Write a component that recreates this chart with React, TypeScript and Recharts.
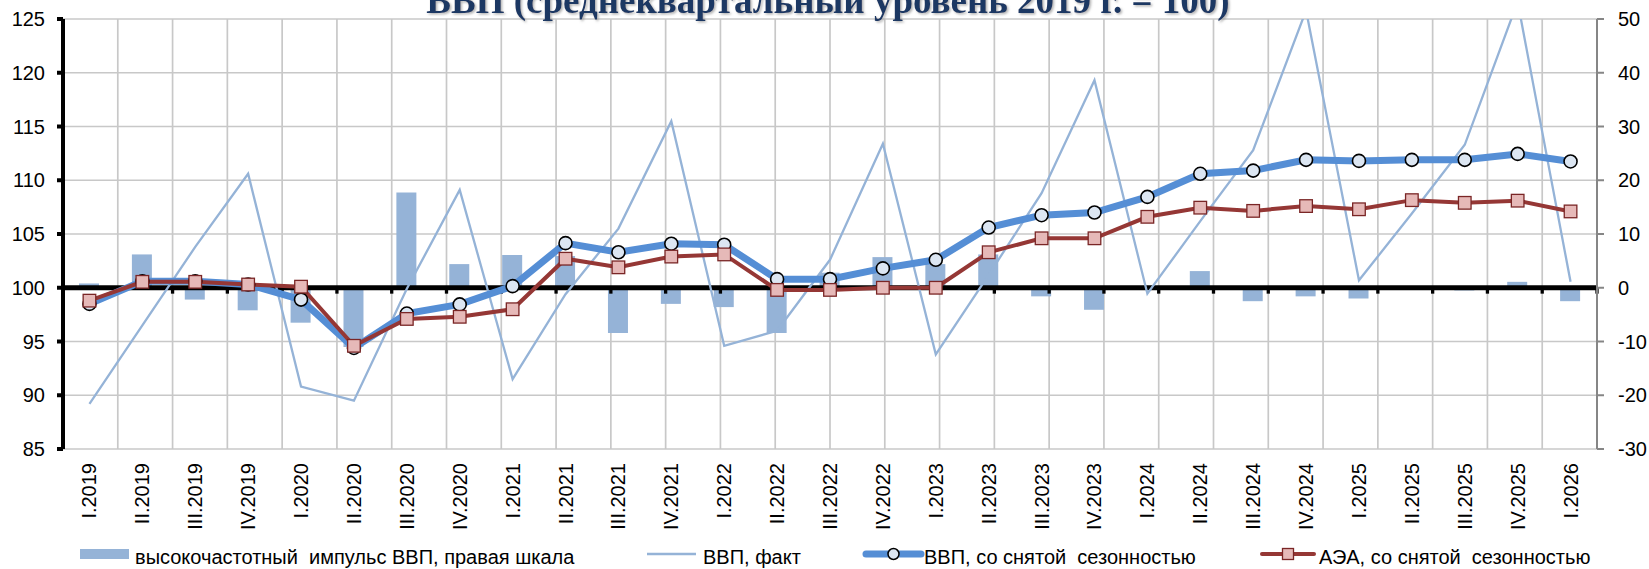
import React from "react";
import {
  Bar,
  CartesianGrid,
  ComposedChart,
  Line,
  ReferenceLine,
  XAxis,
  YAxis,
} from "recharts";

const QUARTERS = [
  "I.2019", "II.2019", "III.2019", "IV.2019",
  "I.2020", "II.2020", "III.2020", "IV.2020",
  "I.2021", "II.2021", "III.2021", "IV.2021",
  "I.2022", "II.2022", "III.2022", "IV.2022",
  "I.2023", "II.2023", "III.2023", "IV.2023",
  "I.2024", "II.2024", "III.2024", "IV.2024",
  "I.2025", "II.2025", "III.2025", "IV.2025",
  "I.2026",
];

// высокочастотный импульс ВВП (правая шкала)
const GDP_IMPULSE = [
  0.8, 6.2, -2.2, -4.2, -6.5, -11.0, 17.7, 4.4, 6.1, 5.9, -8.4, -3.0, -3.6, -8.4, 2.8,
  5.7, 4.4, 6.2, -1.6, -4.1, 0.0, 3.1, -2.5, -1.6, -2.0, 0.0, -0.5, 1.1, -2.5,
];

// ВВП, факт
const GDP_FACT = [
  89.2, 96.5, 103.8, 110.6, 90.8, 89.5, 99.9, 109.1, 91.5, 99.4, 105.5, 115.5, 94.6, 96.0,
  102.6, 113.4, 93.8, 101.2, 108.8, 119.3, 99.45, 106.2, 112.8, 125.8, 100.7, 106.9, 113.3,
  126.6, 100.55,
];

// ВВП, со снятой сезонностью
const GDP_SA = [
  98.5, 100.6, 100.6, 100.3, 98.9, 94.4, 97.6, 98.45, 100.15, 104.15, 103.3, 104.1, 104.0,
  100.8, 100.8, 101.8, 102.6, 105.6, 106.75, 107.0, 108.45, 110.6, 110.9, 111.9, 111.8,
  111.9, 111.9, 112.45, 111.75,
];

// АЭА, со снятой сезонностью
const AEA_SA = [
  98.8, 100.55, 100.55, 100.3, 100.1, 94.6, 97.1, 97.3, 98.0, 102.7, 101.9, 102.9, 103.1,
  99.8, 99.8, 100.0, 100.0, 103.3, 104.6, 104.6, 106.6, 107.45, 107.15, 107.6, 107.3,
  108.15, 107.9, 108.1, 107.1,
];

const LEFT_TICKS = [85, 90, 95, 100, 105, 110, 115, 120, 125];
const RIGHT_TICKS = [-30, -20, -10, 0, 10, 20, 30, 40, 50];
const BOUNDARIES = Array.from({ length: QUARTERS.length + 1 }, (_, i) => i);

const TITLE = "ВВП (среднеквартальный уровень 2019 г. = 100)";
const LEGEND_LABELS = [
  "высокочастотный  импульс ВВП, правая шкала",
  "ВВП, факт",
  "ВВП, со снятой  сезонностью",
  "АЭА, со снятой  сезонностью",
];

const data = QUARTERS.map((q, i) => ({
  q,
  impulse: GDP_IMPULSE[i],
  fact: GDP_FACT[i],
  sa: GDP_SA[i],
  aea: AEA_SA[i],
}));

const BAR_BLUE = "#95B3D7";
const SA_BLUE = "#558ED5";
const AEA_RED = "#953735";
const FONT = '"Liberation Sans", Arial, sans-serif';

const QuarterTick = (props: any) => {
  const { x, y, payload } = props;
  return (
    <text
      x={x}
      y={y}
      transform={`rotate(-90 ${x} ${y})`}
      textAnchor="end"
      dy="0.35em"
      fontSize={20}
      fontFamily={FONT}
      fill="#000"
    >
      {payload.value}
    </text>
  );
};

const SquareDot = (props: any) => {
  const { cx, cy, index } = props;
  if (cx == null || cy == null) return <g key={`sq-${index}`} />;
  return (
    <rect
      key={`sq-${index}`}
      x={cx - 6.3}
      y={cy - 6.3}
      width={12.6}
      height={12.6}
      fill="#E6B9B8"
      stroke="#7A2626"
      strokeWidth={1.3}
    />
  );
};

function Overlay() {
  const legendX = [80, 647, 866, 1262];
  const textY = 564;
  const lineY = 554;
  return (
    <svg
      width={1649}
      height={569}
      style={{ position: "absolute", left: 0, top: 0, pointerEvents: "none" }}
    >
      <defs>
        <filter id="shadow" x="-5%" y="-50%" width="110%" height="200%">
          <feDropShadow dx="1.5" dy="1.5" stdDeviation="1" floodColor="#7f7f7f" floodOpacity="0.6" />
        </filter>
      </defs>
      <text
        x={828}
        y={13}
        textAnchor="middle"
        fontSize={37}
        fontWeight="bold"
        fontFamily='"Liberation Serif", "Times New Roman", serif'
        fill="#1F3864"
        filter="url(#shadow)"
      >
        {TITLE}
      </text>

      <rect x={legendX[0]} y={549} width={49} height={10} fill={BAR_BLUE} />
      <text x={legendX[0] + 55} y={textY} fontSize={20} fontFamily={FONT} style={{ whiteSpace: "pre" }}>
        {LEGEND_LABELS[0]}
      </text>

      <line x1={legendX[1]} x2={legendX[1] + 49} y1={lineY} y2={lineY} stroke={BAR_BLUE} strokeWidth={2.3} />
      <text x={legendX[1] + 56} y={textY} fontSize={20} fontFamily={FONT} style={{ whiteSpace: "pre" }}>
        {LEGEND_LABELS[1]}
      </text>

      <line x1={legendX[2]} x2={legendX[2] + 55} y1={lineY} y2={lineY} stroke={SA_BLUE} strokeWidth={7} strokeLinecap="round" />
      <circle cx={legendX[2] + 27.5} cy={lineY} r={5.5} fill="#DCE6F2" stroke="#000" strokeWidth={1.5} />
      <text x={legendX[2] + 58} y={textY} fontSize={20} fontFamily={FONT} style={{ whiteSpace: "pre" }}>
        {LEGEND_LABELS[2]}
      </text>

      <line x1={legendX[3]} x2={legendX[3] + 52} y1={lineY} y2={lineY} stroke={AEA_RED} strokeWidth={4} strokeLinecap="round" />
      <rect x={legendX[3] + 20.5} y={lineY - 5.5} width={11} height={11} fill="#E6B9B8" stroke="#7A2626" strokeWidth={1.3} />
      <text x={legendX[3] + 57} y={textY} fontSize={20} fontFamily={FONT} style={{ whiteSpace: "pre" }}>
        {LEGEND_LABELS[3]}
      </text>
    </svg>
  );
}

export default function App() {
  return (
    <div
      style={{
        position: "absolute",
        left: 0,
        top: 0,
        width: 1649,
        height: 569,
        background: "#fff",
        overflow: "hidden",
      }}
    >
      <ComposedChart
        width={1649}
        height={569}
        data={data}
        margin={{ top: 19, right: 0, bottom: 0, left: 0 }}
      >
        <XAxis
          xAxisId="grid"
          type="number"
          domain={[0, QUARTERS.length]}
          ticks={BOUNDARIES}
          allowDataOverflow
          hide
        />
        <XAxis
          xAxisId="cat"
          dataKey="q"
          height={120}
          interval={0}
          axisLine={false}
          tickLine={false}
          tickSize={0}
          tickMargin={14}
          tick={<QuarterTick />}
        />
        <YAxis
          yAxisId="left"
          domain={[85, 125]}
          ticks={LEFT_TICKS}
          allowDataOverflow
          width={63}
          axisLine={{ stroke: "#000", strokeWidth: 4 }}
          tickLine={{ stroke: "#000", strokeWidth: 4 }}
          tickSize={6}
          tickMargin={12}
          tick={{ fill: "#000", fontSize: 20, fontFamily: FONT }}
        />
        <YAxis
          yAxisId="right"
          orientation="right"
          domain={[-30, 50]}
          ticks={RIGHT_TICKS}
          allowDataOverflow
          width={52}
          axisLine={{ stroke: "#868686", strokeWidth: 2 }}
          tickLine={{ stroke: "#868686", strokeWidth: 2 }}
          tickSize={7}
          tickMargin={14}
          tick={{ fill: "#000", fontSize: 20, fontFamily: FONT, textAnchor: "start" }}
        />
        <CartesianGrid xAxisId="grid" yAxisId="left" stroke="#c8c8c8" strokeWidth={1.7} />
        <Bar
          xAxisId="cat"
          yAxisId="right"
          dataKey="impulse"
          fill={BAR_BLUE}
          barSize={20}
          isAnimationActive={false}
        />
        <ReferenceLine xAxisId="cat" yAxisId="left" y={100} stroke="#000" strokeWidth={5} />
        {BOUNDARIES.map((k) => (
          <ReferenceLine
            key={`tick-${k}`}
            xAxisId="grid"
            yAxisId="left"
            segment={[
              { x: k, y: 100 },
              { x: k, y: 99.45 },
            ]}
            stroke="#000"
            strokeWidth={3.3}
          />
        ))}
        <Line
          xAxisId="cat"
          yAxisId="left"
          dataKey="fact"
          stroke={BAR_BLUE}
          strokeWidth={2.3}
          dot={false}
          isAnimationActive={false}
        />
        <Line
          xAxisId="cat"
          yAxisId="left"
          dataKey="sa"
          stroke={SA_BLUE}
          strokeWidth={7}
          dot={{ r: 6.5, fill: "#DCE6F2", stroke: "#000", strokeWidth: 1.6 }}
          isAnimationActive={false}
        />
        <Line
          xAxisId="cat"
          yAxisId="left"
          dataKey="aea"
          stroke={AEA_RED}
          strokeWidth={4}
          dot={SquareDot}
          isAnimationActive={false}
        />
      </ComposedChart>
      <Overlay />
    </div>
  );
}
